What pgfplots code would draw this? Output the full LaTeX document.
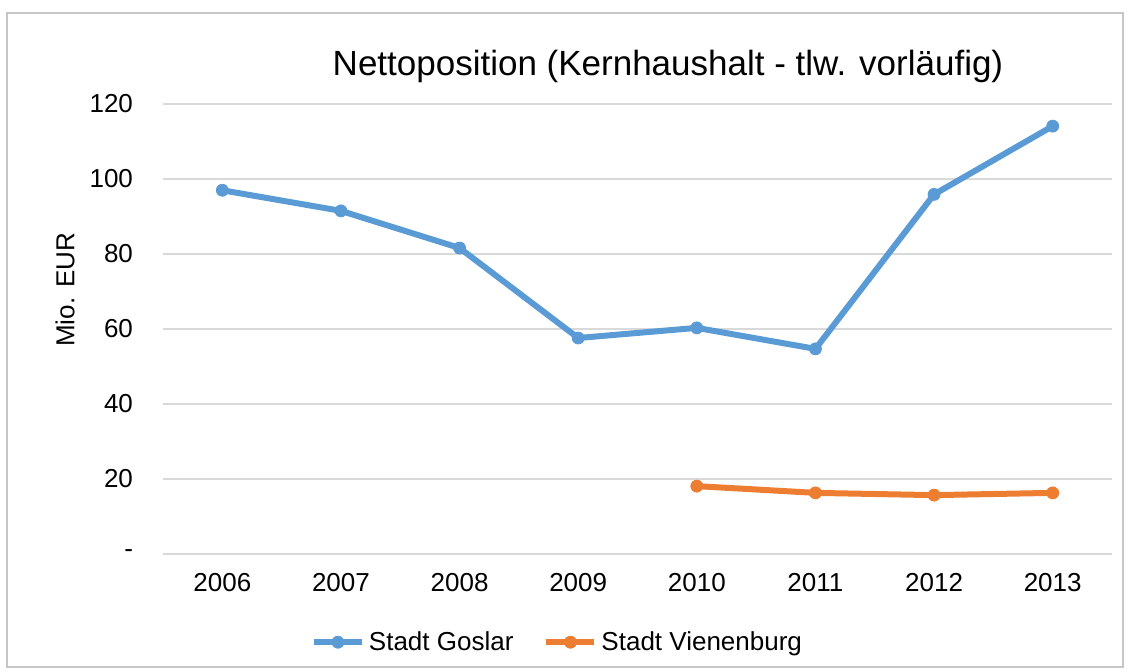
\documentclass[border=0pt]{standalone}
\usepackage{pgfplots}
\pgfplotsset{compat=1.18}
\usepackage{fontspec}
\setmainfont{Liberation Sans}
\definecolor{goslar}{RGB}{91,155,213}
\definecolor{vienen}{RGB}{237,125,49}
\definecolor{gridgray}{RGB}{217,217,217}

\begin{document}
\begin{tikzpicture}
\path[use as bounding box] (-81.5pt,-58.5pt) rectangle (483pt,277pt);
\begin{axis}[
    at={(0pt,0pt)}, anchor=south west,
    scale only axis,
    width=474.5pt, height=225pt,
    xmin=-0.5, xmax=7.5,
    ymin=0, ymax=120,
    xtick={0,1,2,3,4,5,6,7},
    xticklabels={2006,2007,2008,2009,2010,2011,2012,2013},
    ytick={0,20,40,60,80,100,120},
    yticklabels={-,20,40,60,80,100,120},
    /pgf/number format/assume math mode=true,
    ticklabel style={font=\fontsize{13}{15}\selectfont},
    yticklabel style={xshift=-11.5pt},
    xticklabel style={yshift=-6pt},
    axis line style={draw=none},
    major tick style={draw=none},
    ymajorgrids=true,
    grid style={gridgray, line width=0.75pt},
    ylabel={Mio. EUR},
    every axis y label/.style={at={(axis description cs:-0.1033,0.587)}, rotate=90, anchor=center,
        font=\fontsize{13}{15}\selectfont},
    legend style={at={(0.4167,-0.196)}, anchor=center, draw=none,
        font=\fontsize{13}{15}\selectfont,
        /tikz/every even column/.append style={column sep=13pt}},
    legend columns=2,
    legend image code/.code={
        \draw[#1] (0pt,0pt) -- (24pt,0pt);
        \draw[#1, mark repeat=1] plot coordinates {(12pt,0pt)};
    },
]
\addplot[goslar, line width=3pt, mark=*, mark size=3pt, mark options={solid, line width=0.4pt}]
    coordinates {(0,97.0)(1,91.5)(2,81.6)(3,57.6)(4,60.3)(5,54.7)(6,95.9)(7,114.1)};
\addplot[vienen, line width=3pt, mark=*, mark size=3pt, mark options={solid, line width=0.4pt}]
    coordinates {(4,18.1)(5,16.3)(6,15.7)(7,16.3)};
\legend{Stadt Goslar, Stadt Vienenburg}
\end{axis}
\node[font=\fontsize{17.5}{21}\selectfont] at (252.5pt,244pt) {Nettoposition (Kernhaushalt - tlw. vorläufig)};
\draw[gray!45, line width=0.75pt] (-78pt,-56.5pt) rectangle (480pt,270.5pt);
\end{tikzpicture}
\end{document}
